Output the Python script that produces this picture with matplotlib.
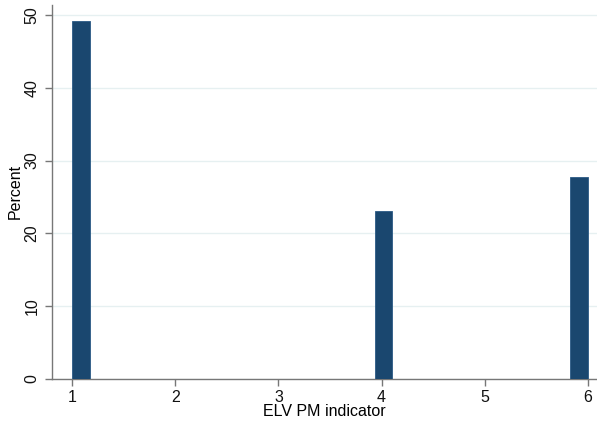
import numpy as np
import matplotlib.pyplot as plt

plt.rcParams['font.family'] = ['Liberation Sans', 'DejaVu Sans']

# ELV PM indicator values and percent of observations
elv_values = [1, 4, 6]
percents = [49.2, 23.1, 27.7]
x_ticks = [1, 2, 3, 4, 5, 6]
y_ticks = [0, 10, 20, 30, 40, 50]

# Stata-style histogram bins over [1, 6]
n_bins = 29
lo, hi = min(x_ticks), max(x_ticks)
bin_w = (hi - lo) / n_bins
lefts = []
for v in elv_values:
    k = min(int(np.floor((v - lo) / bin_w + 1e-9)), n_bins - 1)
    lefts.append(lo + k * bin_w)

fig = plt.figure(figsize=(5.97, 4.29), dpi=100)
ax = fig.add_axes([0.0871, 0.1177, 0.9129, 0.8703])

ax.bar(lefts, percents, width=bin_w, align='edge', color='#1a476f',
       edgecolor='#2a5a85', linewidth=0.6, zorder=3)

ax.set_xlim(0.806, 6.087)
ax.set_ylim(0, 51.4)
ax.set_xticks(x_ticks)
ax.set_yticks(y_ticks)
ax.set_yticklabels([str(t) for t in y_ticks], rotation=90, va='center')
ax.yaxis.grid(True, color='#e6f0f1', linewidth=1.0, zorder=0)
ax.set_axisbelow(True)

for s in ['top', 'right']:
    ax.spines[s].set_visible(False)
for s in ['left', 'bottom']:
    ax.spines[s].set_color('#777777')
    ax.spines[s].set_linewidth(1.0)
ax.tick_params(axis='both', direction='out', length=5, width=1.0,
               color='#777777', labelsize=11.5, labelcolor='#111111')
ax.tick_params(axis='y', pad=4)

ax.set_xlabel('ELV PM indicator', fontsize=11.5, labelpad=-1)
ax.set_ylabel('Percent', fontsize=11.5, labelpad=1)

fig.savefig('out.png', dpi=100, facecolor='white')
